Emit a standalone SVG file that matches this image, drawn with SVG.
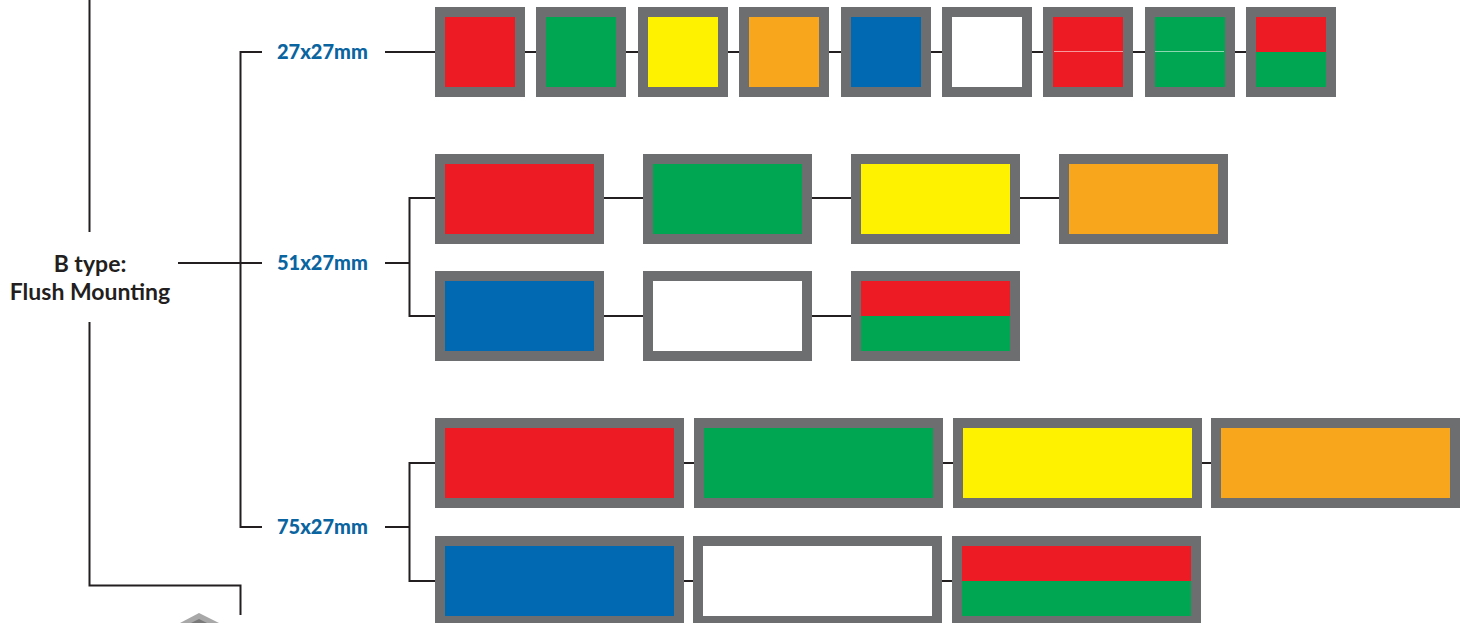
<svg xmlns="http://www.w3.org/2000/svg" width="1467" height="623" viewBox="0 0 1467 623">
<style>
.frame{fill:#6d6e70}
.r{fill:#ed1c24}.g{fill:#00a651}.y{fill:#fff200}.o{fill:#f8a61b}.b{fill:#0069b1}.w{fill:#ffffff}
.ln{stroke:#231f20;stroke-width:2;fill:none}
.size{font-family:Lato,"Liberation Sans",sans-serif;font-weight:900;font-size:20px;fill:#0a64a0}
.title{font-family:Lato,"Liberation Sans",sans-serif;font-weight:bold;font-size:23px;fill:#231f20;text-anchor:middle}
.seam{fill:#ffffff;opacity:0.55}
</style>
<rect width="1467" height="623" fill="#ffffff"/>
<g id="connectors">
<path class="ln" d="M89.5 0V232M89.5 322V585.5H240.5V615"/>
<path class="ln" d="M178 263H262M262 52H240.5V527H262"/>
<path class="ln" d="M385 52H1246"/>
<path class="ln" d="M385 263H409.5M435 198H409.5V316H435M604 198H1059M604 316H851"/>
<path class="ln" d="M385 527H409.5M435 463H409.5V581H435M684 463H1211M684 581H953"/>
</g>
<g id="label-btype"><text class="title" x="90" y="272">B type:</text><text class="title" x="90" y="300">Flush Mounting</text></g>
<g id="label-27"><text class="size" x="277" y="59">27x27mm</text></g>
<g id="label-51"><text class="size" x="277" y="270">51x27mm</text></g>
<g id="label-75"><text class="size" x="277" y="534">75x27mm</text></g>
<g id="icon"><path d="M180 623L199 613L219 623Z" fill="#a8a8a8"/><path d="M191 623L199 619L207 623Z" fill="#7a7a7a"/></g>
<g id="s27-red"><rect class="frame" x="435" y="7" width="90" height="90"/><rect class="r" x="445" y="17" width="70" height="70"/></g>
<g id="s27-green"><rect class="frame" x="536" y="7" width="90" height="90"/><rect class="g" x="546" y="17" width="70" height="70"/></g>
<g id="s27-yellow"><rect class="frame" x="638" y="7" width="90" height="90"/><rect class="y" x="648" y="17" width="70" height="70"/></g>
<g id="s27-orange"><rect class="frame" x="739" y="7" width="90" height="90"/><rect class="o" x="749" y="17" width="70" height="70"/></g>
<g id="s27-blue"><rect class="frame" x="841" y="7" width="90" height="90"/><rect class="b" x="851" y="17" width="70" height="70"/></g>
<g id="s27-white"><rect class="frame" x="942" y="7" width="90" height="90"/><rect class="w" x="952" y="17" width="70" height="70"/></g>
<g id="s27-red2"><rect class="frame" x="1043" y="7" width="90" height="90"/><rect class="r" x="1053" y="17" width="70" height="70"/><rect class="seam" x="1054" y="51" width="69" height="1"/></g>
<g id="s27-green2"><rect class="frame" x="1145" y="7" width="90" height="90"/><rect class="g" x="1155" y="17" width="70" height="70"/><rect class="seam" x="1155" y="51" width="69" height="1"/></g>
<g id="s27-redgreen"><rect class="frame" x="1246" y="7" width="90" height="90"/><rect class="r" x="1256" y="17" width="70" height="35"/><rect class="g" x="1256" y="52" width="70" height="35"/></g>
<g id="s51-red"><rect class="frame" x="435" y="154" width="169" height="90"/><rect class="r" x="445" y="164" width="149" height="70"/></g>
<g id="s51-green"><rect class="frame" x="643" y="154" width="169" height="90"/><rect class="g" x="653" y="164" width="149" height="70"/></g>
<g id="s51-yellow"><rect class="frame" x="851" y="154" width="169" height="90"/><rect class="y" x="861" y="164" width="149" height="70"/></g>
<g id="s51-orange"><rect class="frame" x="1059" y="154" width="169" height="90"/><rect class="o" x="1069" y="164" width="149" height="70"/></g>
<g id="s51-blue"><rect class="frame" x="435" y="271" width="169" height="90"/><rect class="b" x="445" y="281" width="149" height="70"/></g>
<g id="s51-white"><rect class="frame" x="643" y="271" width="169" height="90"/><rect class="w" x="653" y="281" width="149" height="70"/></g>
<g id="s51-redgreen"><rect class="frame" x="851" y="271" width="169" height="90"/><rect class="r" x="861" y="281" width="149" height="35"/><rect class="g" x="861" y="316" width="149" height="35"/></g>
<g id="s75-red"><rect class="frame" x="435" y="418" width="249" height="90"/><rect class="r" x="445" y="428" width="229" height="70"/></g>
<g id="s75-green"><rect class="frame" x="694" y="418" width="249" height="90"/><rect class="g" x="704" y="428" width="229" height="70"/></g>
<g id="s75-yellow"><rect class="frame" x="953" y="418" width="249" height="90"/><rect class="y" x="963" y="428" width="229" height="70"/></g>
<g id="s75-orange"><rect class="frame" x="1211" y="418" width="249" height="90"/><rect class="o" x="1221" y="428" width="229" height="70"/></g>
<g id="s75-blue"><rect class="frame" x="435" y="536" width="249" height="90"/><rect class="b" x="445" y="546" width="229" height="70"/></g>
<g id="s75-white"><rect class="frame" x="693" y="536" width="249" height="90"/><rect class="w" x="703" y="546" width="229" height="70"/></g>
<g id="s75-redgreen"><rect class="frame" x="952" y="536" width="249" height="90"/><rect class="r" x="962" y="546" width="229" height="35"/><rect class="g" x="962" y="581" width="229" height="35"/></g>
</svg>
